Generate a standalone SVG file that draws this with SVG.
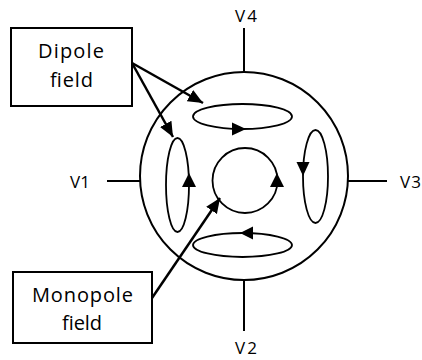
<svg xmlns="http://www.w3.org/2000/svg" width="422" height="360" viewBox="0 0 422 360">
<defs>
<marker id="ah" markerUnits="userSpaceOnUse" markerWidth="16" markerHeight="14" refX="15" refY="6.5" orient="auto">
<path d="M0,0 L15,6.5 L0,13 Z" fill="#000"/>
</marker>
<style>
.ln{fill:none;stroke:#000;stroke-width:2}
.el{fill:none;stroke:#000;stroke-width:1.8}
.box{fill:#fff;stroke:#000;stroke-width:2}
.con{fill:none;stroke:#000;stroke-width:2.5}
.lbl{font-family:"Open Sans","Noto Sans",sans-serif;font-size:20px;fill:#000;text-anchor:middle}
.v{font-family:"Open Sans","Noto Sans",sans-serif;font-size:17px;fill:#000}
.tri{fill:#000}
</style>
</defs>
<rect width="422" height="360" fill="#fff"/>
<g id="electrode">
<circle class="ln" cx="244" cy="176" r="104"/>
<line class="ln" x1="244" y1="28" x2="244" y2="72"/>
<line class="ln" x1="244" y1="280" x2="244" y2="331"/>
<line class="ln" x1="107" y1="181" x2="141" y2="181"/>
<line class="ln" x1="347" y1="181" x2="387" y2="181"/>
<text class="v" x="235" y="22" textLength="22" lengthAdjust="spacing">V4</text>
<text class="v" x="235" y="354" textLength="22" lengthAdjust="spacing">V2</text>
<text class="v" x="70" y="188" textLength="20" lengthAdjust="spacing">V1</text>
<text class="v" x="400" y="188" textLength="21" lengthAdjust="spacing">V3</text>
</g>
<g id="dipole-top">
<ellipse class="el" cx="242.5" cy="116.5" rx="49.5" ry="12.5"/>
<polygon class="tri" points="232,122.5 232,135.5 246,129"/>
</g>
<g id="dipole-bottom">
<ellipse class="el" cx="242.5" cy="245" rx="49.5" ry="12"/>
<polygon class="tri" points="253,226.5 253,239.5 240,233"/>
</g>
<g id="dipole-left">
<ellipse class="el" cx="177.5" cy="185" rx="11.5" ry="47"/>
<polygon class="tri" points="182,187 196,187 189,173"/>
</g>
<g id="dipole-right">
<ellipse class="el" cx="315.5" cy="176.5" rx="12.5" ry="46.5"/>
<polygon class="tri" points="296.5,162 309.5,162 303,176"/>
</g>
<g id="monopole">
<circle class="el" cx="245" cy="180.5" r="32.5"/>
<polygon class="tri" points="270,187 284,187 277,173"/>
</g>
<g id="dipole-label">
<rect class="box" x="11" y="28" width="121" height="78"/>
<text class="lbl" x="71" y="58" textLength="66" lengthAdjust="spacing">Dipole</text>
<text class="lbl" x="71.5" y="87" textLength="43" lengthAdjust="spacing">field</text>
</g>
<g id="monopole-label">
<rect class="box" x="13" y="272" width="139" height="71"/>
<text class="lbl" x="82.5" y="302" textLength="101" lengthAdjust="spacing">Monopole</text>
<text class="lbl" x="82" y="330" textLength="40" lengthAdjust="spacing">field</text>
</g>
<g id="connectors">
<path class="con" d="M132,63 L203,103" marker-end="url(#ah)"/>
<path class="con" d="M132,63 L173,137" marker-end="url(#ah)"/>
<path class="con" d="M152,298 L220,198" marker-end="url(#ah)"/>
</g>
</svg>
